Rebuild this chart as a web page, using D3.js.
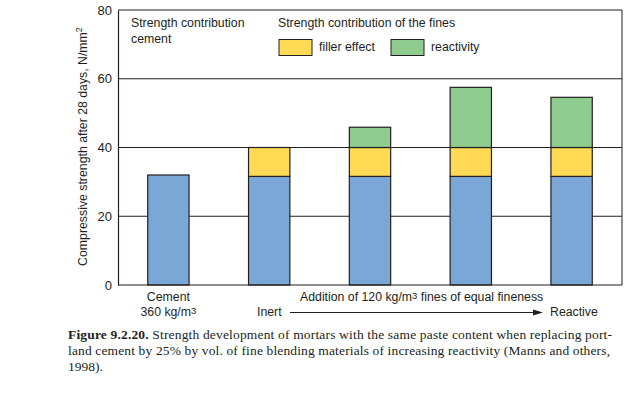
<!DOCTYPE html>
<html><head><meta charset="utf-8">
<script src="https://cdn.jsdelivr.net/npm/d3@7"></script>
<style>
body{margin:0;background:#fff;}
svg{display:block;}
text{font-family:"Liberation Sans",Arial,sans-serif;fill:#231f20;}
.cap{font-family:"Liberation Serif","Times New Roman",serif;}
</style></head>
<body>
<svg id="c" width="643" height="397"></svg>
<script>
const categories = ["Cement", "Inert", "Mid1", "Mid2", "Reactive"];
const cementValues = [32, 31.6, 31.6, 31.6, 31.6];
const fillerValues = [0, 8.4, 8.4, 8.4, 8.4];
const reactivityValues = [0, 0, 5.9, 17.5, 14.6];
const yTicks = [0, 20, 40, 60, 80];
const seriesNames = ["cement", "filler", "reactivity"];
const colors = {cement: "#7ba7d7", filler: "#ffda55", reactivity: "#90cc90"};

const svg = d3.select("#c");
const ink = "#231f20";
const L = 118, R = 622, T = 10, B = 285;
const fs = "12.3px";

const x = d3.scaleBand().domain(categories).range([L, R]).paddingInner(0.59).paddingOuter(0.295);
const y = d3.scaleLinear().domain([0, 80]).range([B, T]);

svg.append("g").selectAll("line").data(yTicks.filter(d => d > 0)).join("line")
  .attr("x1", L).attr("x2", R).attr("y1", d => y(d)).attr("y2", d => y(d))
  .attr("stroke", ink).attr("stroke-width", 1);
svg.append("line").attr("x1", R).attr("x2", R).attr("y1", y(80)).attr("y2", y(0)).attr("stroke", ink);

const rows = categories.map((c, i) => ({cat: c, cement: cementValues[i], filler: fillerValues[i], reactivity: reactivityValues[i]}));
const stack = d3.stack().keys(seriesNames)(rows);
svg.append("g").selectAll("g").data(stack).join("g")
  .attr("fill", d => colors[d.key])
  .selectAll("rect").data(d => d.filter(p => p[1] - p[0] > 0)).join("rect")
  .attr("x", d => x(d.data.cat)).attr("width", x.bandwidth())
  .attr("y", d => y(d[1])).attr("height", d => y(d[0]) - y(d[1]))
  .attr("stroke", ink).attr("stroke-width", 1.2);

const ya = d3.axisLeft(y).tickValues(yTicks).tickSize(0).tickPadding(6);
const gy = svg.append("g").attr("transform", `translate(${L},0)`).call(ya);
gy.select(".domain").attr("stroke", ink).attr("stroke-width", 1.2);
gy.selectAll("text").style("font-size", "13px").attr("fill", ink).style("font-family", '"Liberation Sans",Arial,sans-serif');
svg.append("line").attr("x1", L).attr("x2", R).attr("y1", B).attr("y2", B).attr("stroke", ink).attr("stroke-width", 1.2);

svg.append("text").attr("transform", `translate(87,${(T + B) / 2 - 1}) rotate(-90)`)
  .attr("text-anchor", "middle").style("font-size", fs)
  .html('Compressive strength after 28 days, N/mm<tspan dy="-5" style="font-size:9px">2</tspan>');

svg.append("text").attr("x", 131).attr("y", 27).style("font-size", fs).text("Strength contribution");
svg.append("text").attr("x", 131).attr("y", 43).style("font-size", fs).text("cement");
svg.append("text").attr("x", 278).attr("y", 27).style("font-size", fs).text("Strength contribution of the fines");
const leg = [{k: "filler", label: "filler effect", x: 279}, {k: "reactivity", label: "reactivity", x: 391}];
leg.forEach(l => {
  svg.append("rect").attr("x", l.x).attr("y", 39.5).attr("width", 33).attr("height", 16)
    .attr("fill", colors[l.k]).attr("stroke", ink).attr("stroke-width", 1);
  svg.append("text").attr("x", l.x + 40).attr("y", 51).style("font-size", fs).text(l.label);
});

svg.append("text").attr("x", x("Cement") + x.bandwidth() / 2).attr("y", 301).attr("text-anchor", "middle").style("font-size", fs).text("Cement");
svg.append("text").attr("x", x("Cement") + x.bandwidth() / 2).attr("y", 316).attr("text-anchor", "middle").style("font-size", fs)
  .html('360 kg/m<tspan style="font-size:9.5px" dy="-2">3</tspan>');
svg.append("text").attr("x", 300).attr("y", 301).style("font-size", fs)
  .html('Addition of 120 kg/m<tspan style="font-size:9.5px" dy="-2">3</tspan><tspan dy="2"> fines of equal fineness</tspan>');
svg.append("text").attr("x", 257).attr("y", 316).style("font-size", fs).text("Inert");
svg.append("text").attr("x", 550).attr("y", 316).style("font-size", fs).text("Reactive");
svg.append("line").attr("x1", 290).attr("x2", 535).attr("y1", 312.5).attr("y2", 312.5).attr("stroke", ink).attr("stroke-width", 1);
svg.append("path").attr("d", "M533,309.5 L543,312.5 L533,315.5 Z").attr("fill", ink);

const cap1 = svg.append("text").attr("class", "cap").attr("x", 68).attr("y", 339).style("font-size", "13.5px")
  .attr("textLength", 544).attr("lengthAdjust", "spacing");
cap1.append("tspan").style("font-weight", "bold").text("Figure 9.2.20. ");
cap1.append("tspan").text("Strength development of mortars with the same paste content when replacing port-");
svg.append("text").attr("class", "cap").attr("x", 68).attr("y", 355).style("font-size", "13.5px")
  .attr("textLength", 542).attr("lengthAdjust", "spacing")
  .text("land cement by 25% by vol. of fine blending materials of increasing reactivity (Manns and others,");
svg.append("text").attr("class", "cap").attr("x", 68).attr("y", 371).style("font-size", "13.5px").text("1998).");
</script>
</body></html>
